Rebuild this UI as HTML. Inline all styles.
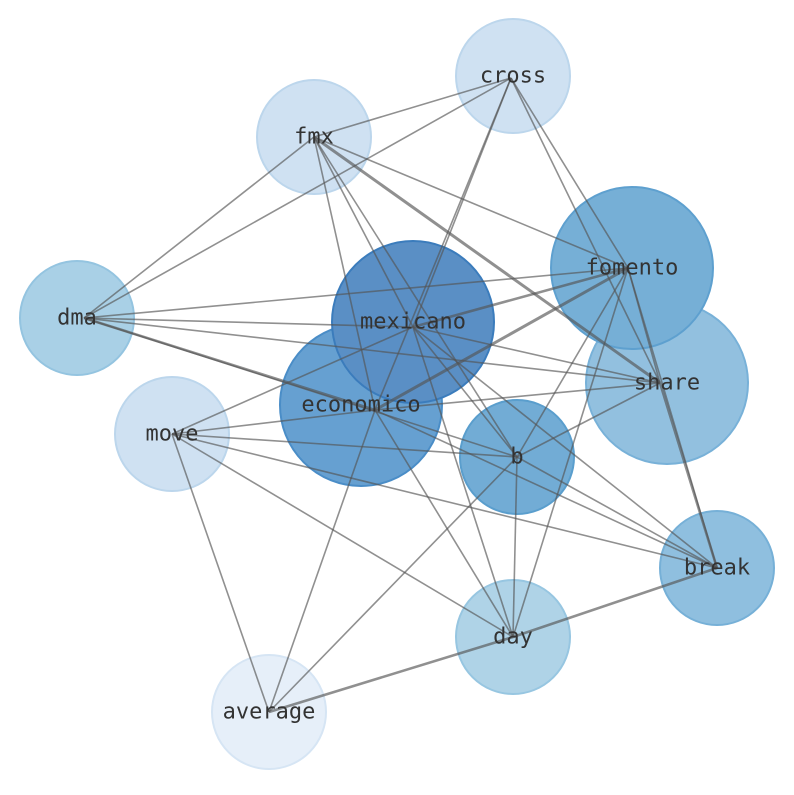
<!DOCTYPE html>
<html><head><meta charset="utf-8"><style>
html,body{margin:0;padding:0;background:#fff;}
svg text{font-family:"DejaVu Sans Mono","Liberation Mono",monospace;font-size:22px;fill:#333;text-anchor:middle;dominant-baseline:central;}
</style></head><body>
<svg width="794" height="790" viewBox="0 0 794 790" xmlns="http://www.w3.org/2000/svg">
<g stroke-width="2">
<circle cx="513" cy="76" r="57" fill="#cfe1f2" stroke="#bcd6ec"/>
<circle cx="314" cy="137" r="57" fill="#cfe1f2" stroke="#bcd6ec"/>
<circle cx="77" cy="318" r="57" fill="#a9d0e6" stroke="#94c4e0"/>
<circle cx="172" cy="434" r="57" fill="#cfe1f2" stroke="#bcd6ec"/>
<circle cx="269" cy="712" r="57" fill="#e6eff9" stroke="#d6e5f4"/>
<circle cx="513" cy="637" r="57" fill="#afd3e7" stroke="#97c6e1"/>
<circle cx="717" cy="568" r="57" fill="#8fbfdf" stroke="#76b0d7"/>
<circle cx="667" cy="383" r="81" fill="#92c0df" stroke="#78b1d8"/>
<circle cx="632" cy="268" r="81" fill="#76afd6" stroke="#5ea0cf"/>
<circle cx="517" cy="457" r="57" fill="#72acd5" stroke="#5a9ecd"/>
<circle cx="361" cy="405" r="81" fill="#66a0d1" stroke="#4a8dc7"/>
<circle cx="413" cy="322" r="81" fill="#5a8fc5" stroke="#3b7cbc"/>
</g>
<g stroke="#555" stroke-opacity="0.65" stroke-width="1.6" fill="none">
<line x1="511" y1="78" x2="314" y2="137"/>
<line x1="511" y1="78" x2="84" y2="318"/>
<line x1="511" y1="78" x2="413" y2="327"/>
<line x1="511" y1="78" x2="375" y2="410"/>
<line x1="511" y1="78" x2="628" y2="268"/>
<line x1="511" y1="78" x2="660" y2="383"/>
<line x1="314" y1="137" x2="84" y2="318"/>
<line x1="314" y1="137" x2="628" y2="268"/>
<line x1="314" y1="137" x2="660" y2="383" stroke-width="3"/>
<line x1="314" y1="137" x2="413" y2="327"/>
<line x1="314" y1="137" x2="375" y2="410"/>
<line x1="314" y1="137" x2="517" y2="457"/>
<line x1="84" y1="318" x2="628" y2="268"/>
<line x1="84" y1="318" x2="413" y2="327"/>
<line x1="84" y1="318" x2="660" y2="383"/>
<line x1="84" y1="318" x2="375" y2="410" stroke-width="2.6"/>
<line x1="84" y1="318" x2="517" y2="457"/>
<line x1="413" y1="327" x2="628" y2="268" stroke-width="2.6"/>
<line x1="413" y1="327" x2="660" y2="383"/>
<line x1="413" y1="327" x2="172" y2="434"/>
<line x1="413" y1="327" x2="517" y2="457"/>
<line x1="413" y1="327" x2="717" y2="568"/>
<line x1="413" y1="327" x2="513" y2="637"/>
<line x1="375" y1="410" x2="628" y2="268" stroke-width="3"/>
<line x1="375" y1="410" x2="172" y2="434"/>
<line x1="375" y1="410" x2="513" y2="637"/>
<line x1="375" y1="410" x2="717" y2="568"/>
<line x1="375" y1="410" x2="660" y2="383"/>
<line x1="375" y1="410" x2="269" y2="712"/>
<line x1="172" y1="434" x2="517" y2="457"/>
<line x1="172" y1="434" x2="717" y2="568"/>
<line x1="172" y1="434" x2="513" y2="637"/>
<line x1="172" y1="434" x2="269" y2="712"/>
<line x1="517" y1="457" x2="628" y2="268"/>
<line x1="517" y1="457" x2="660" y2="383"/>
<line x1="517" y1="457" x2="717" y2="568"/>
<line x1="517" y1="457" x2="513" y2="637"/>
<line x1="517" y1="457" x2="269" y2="712"/>
<line x1="628" y1="268" x2="717" y2="568"/>
<line x1="628" y1="268" x2="513" y2="637"/>
<line x1="628" y1="268" x2="660" y2="383"/>
<line x1="660" y1="383" x2="717" y2="568" stroke-width="2.6"/>
<line x1="717" y1="568" x2="513" y2="637" stroke-width="2.6"/>
<line x1="513" y1="637" x2="269" y2="712" stroke-width="2.6"/>
</g>
<text x="513" y="76">cross</text>
<text x="314" y="137">fmx</text>
<text x="77" y="318">dma</text>
<text x="172" y="434">move</text>
<text x="269" y="712">average</text>
<text x="513" y="637">day</text>
<text x="717" y="568">break</text>
<text x="667" y="383">share</text>
<text x="632" y="268">fomento</text>
<text x="517" y="457">b</text>
<text x="361" y="405">economico</text>
<text x="413" y="322">mexicano</text>
</svg>
</body></html>
